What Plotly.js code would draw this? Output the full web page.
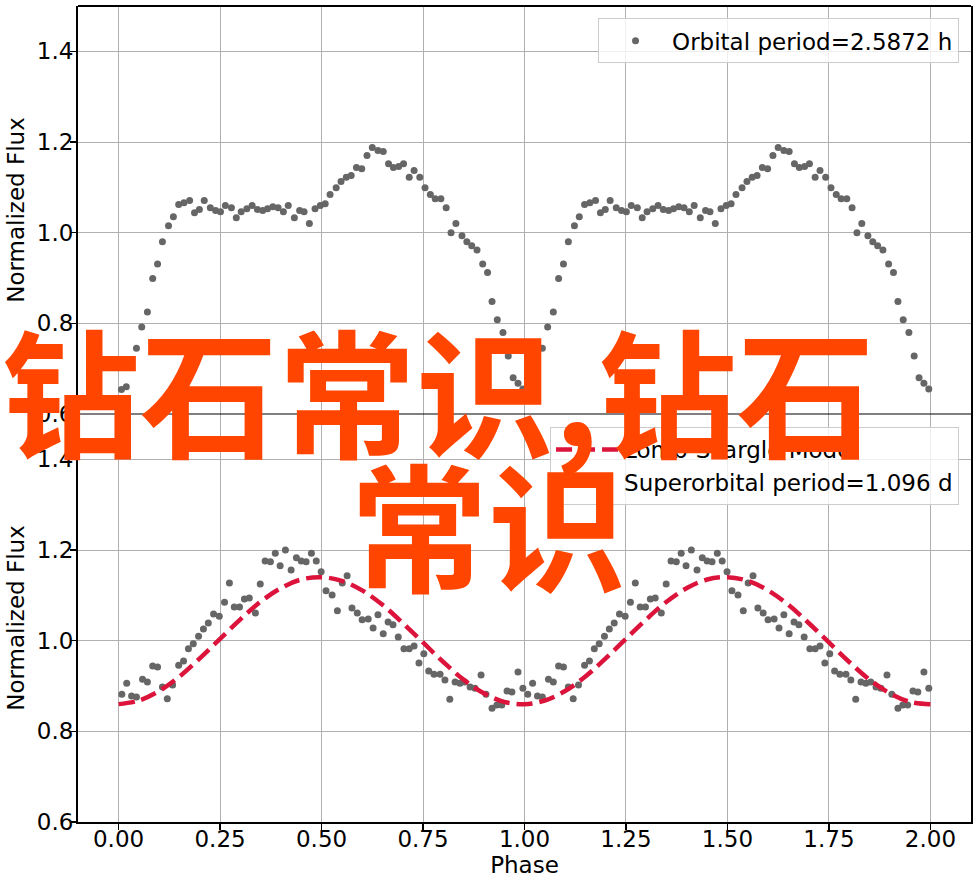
<!DOCTYPE html>
<html>
<head>
<meta charset="utf-8">
<script src="https://cdn.plot.ly/plotly-3.0.1.min.js"></script>
<style>html,body{margin:0;padding:0;background:#fff;}#chart{width:977px;height:886px;}</style>
</head>
<body>
<div id="chart"></div>
<script>
// Orbital (top) phase-folded light curve, one cycle (plotted twice: phase and phase+1)
const orbitalPhase = [0.007,0.019,0.032,0.044,0.057,0.071,0.084,0.096,0.108,0.123,
  0.135,0.148,0.161,0.175,0.187,0.199,0.211,0.226,0.239,0.251,
  0.263,0.278,0.290,0.302,0.316,0.329,0.342,0.355,0.367,0.380,
  0.393,0.406,0.418,0.433,0.446,0.457,0.470,0.484,0.497,0.509,
  0.521,0.536,0.548,0.561,0.573,0.586,0.599,0.612,0.625,0.639,
  0.652,0.665,0.677,0.690,0.702,0.716,0.728,0.742,0.755,0.768,
  0.780,0.794,0.807,0.819,0.831,0.846,0.858,0.870,0.883,0.897,
  0.909,0.920,0.933,0.947,0.960,0.972,0.984,0.996];
const orbitalFlux = [0.654,0.660,0.704,0.745,0.792,0.825,0.899,0.931,0.980,1.015,
  1.035,1.062,1.066,1.071,1.044,1.051,1.071,1.055,1.049,1.046,
  1.060,1.055,1.033,1.046,1.053,1.060,1.051,1.049,1.053,1.057,
  1.055,1.046,1.060,1.033,1.049,1.046,1.020,1.053,1.060,1.064,
  1.084,1.099,1.113,1.122,1.126,1.144,1.141,1.170,1.188,1.181,
  1.179,1.152,1.144,1.146,1.152,1.122,1.137,1.122,1.099,1.084,
  1.075,1.075,1.055,1.000,1.020,0.993,0.980,0.971,0.962,0.931,
  0.912,0.848,0.808,0.780,0.728,0.680,0.668,0.655];

// Superorbital (bottom) phase-folded light curve, one cycle
const superPhase = [0.008,0.020,0.032,0.044,0.059,0.071,0.084,0.096,0.108,0.120,
  0.133,0.148,0.160,0.172,0.184,0.197,0.209,0.221,0.234,0.248,
  0.261,0.273,0.285,0.298,0.310,0.322,0.337,0.349,0.361,0.374,
  0.386,0.398,0.411,0.425,0.438,0.450,0.462,0.475,0.487,0.499,
  0.511,0.526,0.539,0.551,0.563,0.575,0.588,0.600,0.615,0.627,
  0.639,0.652,0.664,0.676,0.689,0.703,0.716,0.728,0.740,0.752,
  0.764,0.777,0.792,0.804,0.816,0.829,0.841,0.853,0.866,0.878,
  0.893,0.905,0.920,0.932,0.944,0.957,0.969,0.984,0.996];
const superFlux = [0.882,0.906,0.878,0.876,0.915,0.909,0.944,0.942,0.898,0.872,
  0.902,0.946,0.955,0.982,0.993,1.010,1.026,1.039,1.059,1.054,
  1.085,1.127,1.074,1.074,1.092,1.094,1.061,1.125,1.176,1.174,
  1.193,1.165,1.200,1.156,1.183,1.176,1.174,1.193,1.176,1.152,
  1.110,1.101,1.066,1.127,1.143,1.072,1.061,1.046,1.048,1.028,
  1.057,1.015,1.041,1.035,1.008,0.982,0.982,0.988,0.951,0.971,
  0.933,0.926,0.926,0.913,0.871,0.909,0.906,0.909,0.898,0.895,
  0.924,0.882,0.851,0.858,0.858,0.889,0.887,0.931,0.895];

// Lomb-Scargle model, one cycle, read at 0.05 phase steps
const modelPhase = [0,0.05,0.10,0.15,0.20,0.25,0.30,0.35,0.40,0.45,0.50,
  0.55,0.60,0.65,0.70,0.75,0.80,0.85,0.90,0.95];
const modelFlux = [0.860,0.868,0.889,0.921,0.961,1.004,1.047,1.086,1.116,1.135,1.140,
  1.132,1.111,1.079,1.039,0.996,0.953,0.914,0.884,0.865];

const xTicks = [0,0.25,0.5,0.75,1.0,1.25,1.5,1.75,2.0];
const yTicks = [0.6,0.8,1.0,1.2,1.4];

const orbitalLabel = 'Orbital period=2.5872 h';
const superLabel = 'Superorbital period=1.096 d';
const modelLabel = 'Lomb-Scargle Model';
const overlayLine1 = '钻石常识,钻石';
const overlayLine2 = '常识';

function twoCycles(ph){ return ph.concat(ph.map(p => p + 1)); }

const FONT = 'DejaVu Sans, sans-serif';
const FS = 23;
const dotColor = '#666666';

const traces = [
  {
    x: twoCycles(orbitalPhase), y: orbitalFlux.concat(orbitalFlux),
    xaxis: 'x2', yaxis: 'y2', type: 'scatter', mode: 'markers',
    marker: {color: dotColor, size: 7},
    name: orbitalLabel, legend: 'legend'
  },
  {
    x: twoCycles(superPhase), y: superFlux.concat(superFlux),
    xaxis: 'x', yaxis: 'y', type: 'scatter', mode: 'markers',
    marker: {color: dotColor, size: 7},
    name: superLabel, legend: 'legend2', legendrank: 2
  },
  {
    x: twoCycles(modelPhase).concat([2.0]), y: modelFlux.concat(modelFlux).concat([modelFlux[0]]),
    xaxis: 'x', yaxis: 'y', type: 'scatter', mode: 'lines',
    line: {color: '#DC143C', width: 4.5, dash: '16px,7px', shape: 'spline', smoothing: 1},
    name: modelLabel, legend: 'legend2', legendrank: 1
  }
];

const axisCommon = {
  range: [-0.1, 2.1], tickvals: xTicks, ticktext: xTicks.map(v => v.toFixed(2)),
  showgrid: true, gridcolor: '#b0b0b0', gridwidth: 1, zeroline: false
};
const yCommon = {
  range: [0.6, 1.5], tickvals: yTicks, ticktext: yTicks.map(v => v.toFixed(1)),
  showgrid: true, gridcolor: '#b0b0b0', gridwidth: 1, zeroline: false,
  ticks: 'outside', ticklen: 6, tickwidth: 1.3, tickcolor: '#000',
  ticklabelstandoff: -8,
  showline: true, mirror: true, linewidth: 2, linecolor: '#000',
  tickfont: {family: FONT, size: FS, color: '#000'},
  title: {text: 'Normalized Flux', font: {family: FONT, size: FS, color: '#000'}, standoff: 6}
};

const legendCommon = {
  bgcolor: 'rgba(255,255,255,0.8)', bordercolor: '#cccccc', borderwidth: 1,
  font: {family: FONT, size: FS, color: '#000'}, itemwidth: 63,
  xref: 'paper', yref: 'paper', xanchor: 'right', yanchor: 'top', traceorder: 'normal'
};

const layout = {
  width: 977, height: 886,
  margin: {l: 78, r: 6, t: 6, b: 64},
  paper_bgcolor: '#fff', plot_bgcolor: '#fff',
  showlegend: true,
  xaxis: Object.assign({}, axisCommon, {
    anchor: 'y', domain: [0, 1],
    ticks: 'outside', ticklen: 6, tickwidth: 1.3, tickcolor: '#000',
    ticklabelstandoff: -11,
    showline: true, linewidth: 2, linecolor: '#000',
    tickfont: {family: FONT, size: FS, color: '#000'},
    title: {text: 'Phase', font: {family: FONT, size: FS, color: '#000'}, standoff: 0}
  }),
  xaxis2: Object.assign({}, axisCommon, {
    anchor: 'y2', domain: [0, 1], matches: 'x', showticklabels: false, ticks: '', showline: false
  }),
  yaxis: Object.assign({}, yCommon, {anchor: 'x', domain: [0, 0.5]}),
  yaxis2: Object.assign({}, yCommon, {anchor: 'x2', domain: [0.5, 1]}),
  legend: Object.assign({}, legendCommon, {x: 0.9866, y: 0.985}),
  legend2: Object.assign({}, legendCommon, {x: 0.9866, y: 0.484}),
  shapes: [
    {type: 'line', xref: 'paper', yref: 'paper', x0: 0, x1: 1, y0: 1, y1: 1, line: {color: '#000', width: 2}},
    {type: 'line', xref: 'paper', yref: 'paper', x0: 0, x1: 1, y0: 0.5, y1: 0.5, line: {color: '#000', width: 1}}
  ],
  annotations: [
    {text: overlayLine1, xref: 'paper', yref: 'paper', x: -0.0874, y: 0.5336,
     xanchor: 'left', yanchor: 'middle', showarrow: false,
     font: {family: 'Noto Sans CJK SC', size: 138, color: '#FF4500', weight: 700}},
    {text: overlayLine2, xref: 'paper', yref: 'paper', x: 0.459, y: 0.3685,
     xanchor: 'center', yanchor: 'middle', showarrow: false,
     font: {family: 'Noto Sans CJK SC', size: 138, color: '#FF4500', weight: 700}}
  ]
};

Plotly.newPlot('chart', traces, layout, {displayModeBar: false, staticPlot: true});
</script>
</body>
</html>
